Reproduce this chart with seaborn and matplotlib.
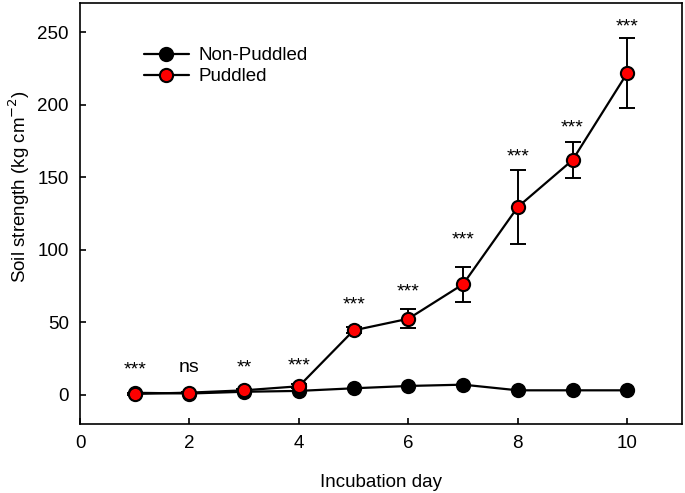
import matplotlib
matplotlib.use("Agg")
import matplotlib.pyplot as plt
import seaborn as sns
import pandas as pd
import numpy as np

days = [1, 2, 3, 4, 5, 6, 7, 8, 9, 10]
non_puddled = [1.5, 1.0, 2.2, 2.8, 4.6, 6.2, 7.1, 3.2, 3.2, 3.2]
puddled = [0.7, 1.6, 3.2, 6.0, 44.5, 52.5, 76.3, 129.5, 161.8, 221.8]
puddled_err = [0.5, 0.5, 1.0, 1.5, 2.0, 6.7, 12.0, 25.5, 12.5, 24.0]
sig_labels = ["***", "ns", "**", "***", "***", "***", "***", "***", "***", "***"]
sig_y = [17.5, 19, 18.5, 20, 62, 71, 107, 164, 184, 253.6]

sns.set_theme(style="white")
plt.rcParams['font.family'] = ['Liberation Sans', 'DejaVu Sans']
plt.rcParams['text.color'] = 'black'
plt.rcParams['axes.labelcolor'] = 'black'

fig = plt.figure(figsize=(6.85, 4.93), dpi=100)
ax = fig.add_axes([80/685, 1-424/493, 602/685, 421/493])

df = pd.DataFrame({"day": days + days,
                   "value": non_puddled + puddled,
                   "group": ["Non-Puddled"]*10 + ["Puddled"]*10})

sns.lineplot(data=df[df.group == "Non-Puddled"], x="day", y="value", ax=ax,
             color="black", marker="o", markersize=9.5, markerfacecolor="black",
             markeredgecolor="black", markeredgewidth=1.5, linewidth=1.6,
             label="Non-Puddled", zorder=3)
ax.errorbar(days, puddled, yerr=puddled_err, fmt="none", ecolor="black",
            elinewidth=1.4, capsize=6, capthick=1.4, zorder=4)
sns.lineplot(data=df[df.group == "Puddled"], x="day", y="value", ax=ax,
             color="black", marker="o", markersize=9.5, markerfacecolor="#ff0000",
             markeredgecolor="black", markeredgewidth=1.5, linewidth=1.6,
             label="Puddled", zorder=5)

for d, lab, yv in zip(days, sig_labels, sig_y):
    ax.text(d, yv, lab, ha="center", va="center",
            fontsize=14, color="black")

ax.set_xlim(0, 11)
ax.set_ylim(-20, 270)
ax.set_xticks([0, 2, 4, 6, 8, 10])
ax.set_yticks([0, 50, 100, 150, 200, 250])
ax.tick_params(axis="both", direction="in", length=4.5, width=1.2, labelsize=13.5,
               colors="black", labelcolor="black", pad=8,
               top=False, right=False, left=True, bottom=True)
for s in ax.spines.values():
    s.set_color("black")
    s.set_linewidth(1.2)
    s.set_visible(True)

ax.set_xlabel("Incubation day", fontsize=13.5, labelpad=16, color="black")
ax.set_ylabel("Soil strength (kg cm$^{-2}$)", fontsize=13.5, labelpad=4,
              color="black", y=0.563)

leg = ax.legend(loc="upper left", bbox_to_anchor=(0.078, 0.935), frameon=False,
                fontsize=13.5, handlelength=2.4, handletextpad=0.5,
                labelspacing=0.2)
for t in leg.get_texts():
    t.set_color("black")

fig.savefig("out.png", dpi=100)
